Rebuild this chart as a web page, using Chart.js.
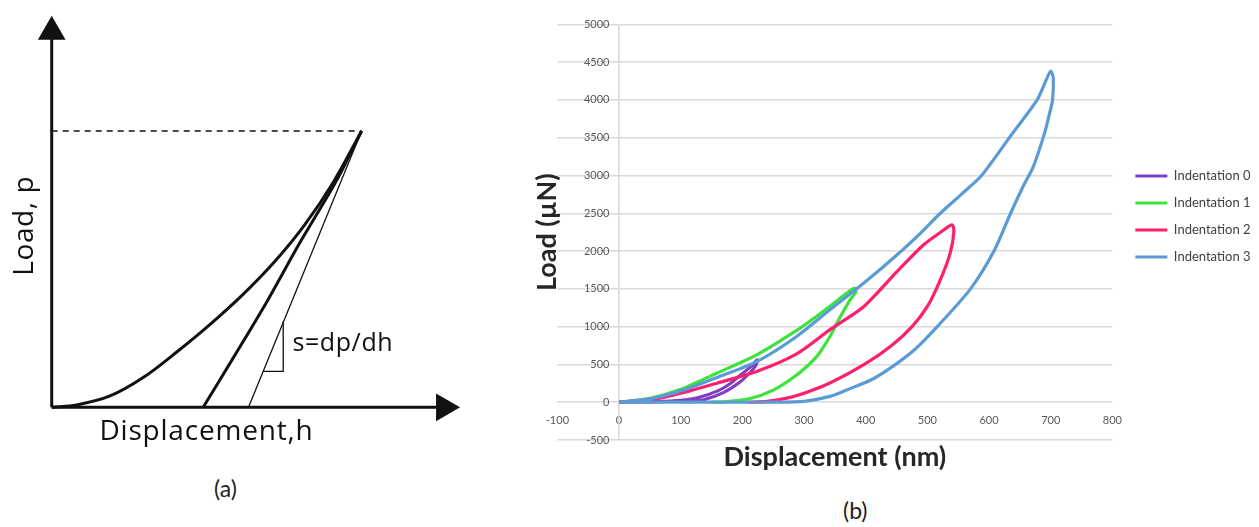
<!DOCTYPE html>
<html lang="en">
<head>
  <meta charset="UTF-8">
  <title>Load - displacement curves</title>
  <script src="https://cdn.jsdelivr.net/npm/chart.js@4.4.0/dist/chart.umd.min.js"></script>
  <style>
    body { margin: 0; background: #fff; width: 1259px; height: 527px; position: relative; overflow: hidden; }
    canvas { position: absolute; top: 0; }
    #sketch { left: 0; }
    #curves { left: 470px; }
    .cap { position: absolute; font-family: Lato, sans-serif; font-size: 23px; color: #222; }
  </style>
</head>
<body>
  <canvas id="sketch" width="480" height="470"></canvas>
  <canvas id="curves" width="789" height="490"></canvas>
  <div class="cap" style="left:214px; top:474px;">(a)</div>
  <div class="cap" style="left:843px; top:496px;">(b)</div>

  <script>
    // ---- (a) schematic, arbitrary units ----
    const sketchLoadH = [0, 0.61, 1.43, 2.24, 3.07, 3.88, 4.68, 5.49, 6.20, 6.89, 7.59];
    const sketchLoadP = [0, 0.06, 0.29, 0.76, 1.42, 2.12, 2.88, 3.76, 4.67, 5.74, 7.06];
    const sketchUnloadH = [3.71, 4.45, 5.27, 6.08, 6.98, 7.59];
    const sketchUnloadP = [0, 1.27, 2.70, 4.21, 5.80, 7.06];
    const tangentH = [4.82, 7.59];
    const tangentP = [0, 7.06];
    const slopeH = [5.18, 5.67, 5.67];
    const slopeP = [0.92, 0.92, 2.2];
    const peakH = 7.59;
    const peakP = 7.06;

    // ---- (b) measured curves ----
    const dispTicks = [-100, 0, 100, 200, 300, 400, 500, 600, 700, 800];
    const loadTicks = [-500, 0, 500, 1000, 1500, 2000, 2500, 3000, 3500, 4000, 4500, 5000];
    const seriesNames = ['Indentation 0', 'Indentation 1', 'Indentation 2', 'Indentation 3'];
    const seriesColors = ['#7f3fbf', '#3be33b', '#ff1f6f', '#5b9bd5'];

    const ind0Disp = [0, 60, 100, 130, 160, 180, 200, 215, 224, 222, 212, 195, 170, 140, 110];
    const ind0Load = [0, 8, 25, 65, 150, 245, 380, 480, 560, 490, 390, 260, 130, 40, 0];

    const ind1Disp = [0, 50, 100, 160, 224, 288, 320, 353, 381, 384, 375, 359, 342, 320, 288, 250, 211, 170, 150];
    const ind1Load = [0, 50, 170, 390, 630, 950, 1135, 1340, 1510, 1460, 1356, 1135, 870, 600, 360, 160, 45, 5, 0];

    const ind2Disp = [0, 60, 115, 160, 224, 288, 342, 397, 451, 494, 527, 540, 543, 537, 521, 500, 474, 440, 397, 342, 300, 270, 240, 210];
    const ind2Load = [0, 45, 150, 255, 410, 640, 960, 1267, 1730, 2083, 2282, 2348, 2260, 1973, 1620, 1267, 990, 737, 496, 254, 120, 50, 10, 0];

    const ind3Disp = [0, 50, 100, 160, 224, 288, 342, 397, 451, 489, 521, 555, 588, 633, 678, 692, 700,
                      704, 703, 699, 690, 672, 655, 635, 608, 570, 516, 480, 445, 410, 370, 342, 300, 256, 150, 0];
    const ind3Load = [0, 45, 150, 330, 540, 870, 1223, 1576, 1951, 2238, 2500, 2750, 3000, 3500, 4000, 4250, 4380,
                      4300, 4000, 3850, 3560, 3120, 2850, 2500, 2000, 1500, 1000, 700, 480, 300, 165, 77, 12, 0, 0, 0];

    const seriesDisp = [ind0Disp, ind1Disp, ind2Disp, ind3Disp];
    const seriesLoad = [ind0Load, ind1Load, ind2Load, ind3Load];

    function pts(xs, ys) {
      return xs.map((v, i) => ({ x: v, y: ys[i] }));
    }

    // text labels for the schematic, placed in its own units
    const sketchText = {
      id: 'sketchText',
      afterDatasetsDraw(chart, args, opts) {
        const { ctx, scales: { x, y } } = chart;
        ctx.save();
        ctx.fillStyle = '#111';
        ctx.textAlign = 'center';
        ctx.textBaseline = 'middle';
        opts.items.forEach(t => {
          ctx.save();
          ctx.font = t.font;
          ctx.letterSpacing = t.spacing || '0px';
          ctx.translate(x.getPixelForValue(t.h), y.getPixelForValue(t.p));
          ctx.rotate(t.rot || 0);
          ctx.fillText(t.text, 0, 0);
          ctx.restore();
        });
        ctx.restore();
      }
    };

    const ink = '#111';
    const sketch = new Chart(document.getElementById('sketch'), {
      type: 'scatter',
      data: {
        datasets: [
          { data: pts(sketchLoadH, sketchLoadP), showLine: true, borderColor: ink, borderWidth: 3, pointRadius: 0, tension: 0.35 },
          { data: pts(sketchUnloadH, sketchUnloadP), showLine: true, borderColor: ink, borderWidth: 3, pointRadius: 0, tension: 0.3 },
          { data: pts(tangentH, tangentP), showLine: true, borderColor: ink, borderWidth: 1.3, pointRadius: 0 },
          { data: pts(slopeH, slopeP), showLine: true, borderColor: ink, borderWidth: 1.3, pointRadius: 0 },
          { data: [{ x: 0, y: peakP }, { x: peakH, y: peakP }], showLine: true, borderColor: ink, borderWidth: 1.5, borderDash: [6, 5], pointRadius: 0 },
          { data: [{ x: 0, y: 0 }, { x: 0, y: 9.6 }], showLine: true, borderColor: ink, borderWidth: 3, pointRadius: 0 },
          { data: [{ x: 0, y: 0 }, { x: 9.6, y: 0 }], showLine: true, borderColor: ink, borderWidth: 3, pointRadius: 0 },
          { data: [{ x: 0, y: 9.6 }, { x: 9.61, y: 0 }], showLine: false, pointStyle: 'triangle', pointRadius: 16,
            pointRotation: [0, 90], backgroundColor: ink, borderColor: ink, borderWidth: 0 }
        ]
      },
      options: {
        responsive: false,
        animation: false,
        clip: false,
        layout: { padding: { left: 51.7, right: 20, top: 10, bottom: 62.7 } },
        scales: {
          x: { type: 'linear', min: 0, max: 10, display: false },
          y: { type: 'linear', min: 0, max: 10, display: false }
        },
        plugins: {
          legend: { display: false },
          tooltip: { enabled: false },
          sketchText: {
            items: [
              { text: 'Load, p', h: -0.65, p: 4.64, rot: -Math.PI / 2, font: '28px "Open Sans"', spacing: '0.6px' },
              { text: 'Displacement,h', h: 3.79, p: -0.62, font: '28px "Open Sans"', spacing: '0.8px' },
              { text: 's=dp/dh', h: 7.13, p: 1.62, font: '25px "Open Sans"', spacing: '0.6px' }
            ]
          }
        }
      },
      plugins: [sketchText]
    });

    // y-axis title: the y axis sits at x = 0, so its title is drawn beside the plot area
    const loadTitle = {
      id: 'loadTitle',
      afterDraw(chart, args, opts) {
        const { ctx, chartArea } = chart;
        ctx.save();
        ctx.font = 'bold 27px Lato';
        ctx.fillStyle = '#262626';
        ctx.textAlign = 'center';
        ctx.textBaseline = 'middle';
        ctx.translate(chartArea.left - opts.offset, (chartArea.top + chartArea.bottom) / 2);
        ctx.rotate(-Math.PI / 2);
        ctx.fillText(opts.text, 0, 0);
        ctx.restore();
      }
    };

    // small gap between plot area and legend
    const legendGap = {
      id: 'legendGap',
      afterLayout(chart, args, opts) {
        chart.legend.left += opts.shift;
        chart.legend.right += opts.shift;
      }
    };

    const tickFont = { family: 'Lato', size: 11 };
    const curves = new Chart(document.getElementById('curves'), {
      type: 'scatter',
      data: {
        datasets: seriesNames.map((name, i) => ({
          label: name,
          data: pts(seriesDisp[i], seriesLoad[i]),
          showLine: true,
          borderColor: seriesColors[i],
          backgroundColor: seriesColors[i],
          borderWidth: 3.2,
          pointRadius: 0,
          tension: 0.25,
          order: seriesNames.length - i
        }))
      },
      options: {
        responsive: false,
        animation: false,
        layout: { padding: { left: 87.4, right: 7.5, top: 24.3, bottom: 22.2 } },
        scales: {
          x: {
            type: 'linear', min: -100, max: 800,
            position: { y: 0 },
            afterBuildTicks: axis => { axis.ticks = dispTicks.map(v => ({ value: v })); },
            grid: { display: false, drawTicks: false },
            border: { display: false },
            ticks: { padding: 12, color: '#595959', font: tickFont, callback: v => String(v) }
          },
          y: {
            type: 'linear', min: -500, max: 5000,
            position: { x: 0 },
            afterBuildTicks: axis => { axis.ticks = loadTicks.map(v => ({ value: v })); },
            grid: { color: '#d9d9d9', lineWidth: 1.5, drawTicks: false },
            border: { display: true, color: '#d9d9d9', width: 1.5 },
            // labels of a centred axis sit on the axis line; the trailing spaces keep them clear of it
            ticks: { color: '#595959', font: tickFont, callback: v => String(v) + '\u2003\u2009' }
          }
        },
        plugins: {
          tooltip: { enabled: false },
          legend: {
            position: 'right',
            align: 'start',
            title: { display: true, text: '', font: { size: 1 }, padding: { top: 130, bottom: 0 } },
            labels: {
              usePointStyle: true, pointStyle: 'line', pointStyleWidth: 32,
              padding: 14, color: '#404040', font: { family: 'Lato', size: 13 },
              sort: (a, b) => a.datasetIndex - b.datasetIndex
            }
          },
          title: {
            display: true, position: 'bottom', fullSize: false,
            text: 'Displacement (nm)', color: '#262626',
            font: { family: 'Lato', size: 27, weight: 'bold', lineHeight: 0.8 },
            padding: { top: 6.2, bottom: 0 }
          },
          loadTitle: { text: 'Load (µN)', offset: 10.4 },
          legendGap: { shift: 9 }
        }
      },
      plugins: [loadTitle, legendGap]
    });

    // re-measure once the local fonts are surely in use
    Promise.all([
      document.fonts.load('13px Lato'),
      document.fonts.load('bold 27px Lato'),
      document.fonts.load('28px "Open Sans"')
    ]).then(() => { sketch.update(); curves.update(); });
  </script>
</body>
</html>
